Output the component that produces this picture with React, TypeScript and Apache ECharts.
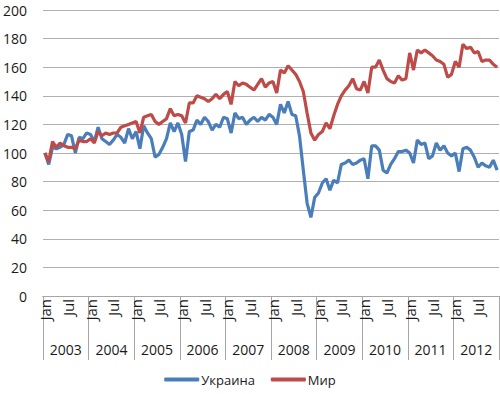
import React, { useEffect, useRef } from "react";
import * as echarts from "echarts";

const years = ["2003", "2004", "2005", "2006", "2007", "2008", "2009", "2010", "2011", "2012"];
const monthNames = ["Jan", "Feb", "Mar", "Apr", "May", "Jun", "Jul", "Aug", "Sep", "Oct", "Nov", "Dec"];
const shownMonths = ["Jan", "Jul"];
const yTicks = { min: 0, max: 200, step: 20 };

const ukraine = [
  100, 92, 104, 103, 104, 106, 113, 112, 100, 111, 110, 114,
  113, 108, 118, 110, 108, 106, 109, 113, 111, 107, 117, 110,
  115, 103, 119, 114, 110, 97, 99, 104, 110, 121, 115, 121,
  113, 94, 115, 116, 123, 120, 125, 122, 116, 120, 118, 125,
  124, 114, 128, 124, 125, 120, 123, 125, 122, 125, 123, 127,
  125, 120, 134, 128, 136, 127, 126, 112, 88, 65, 55, 69,
  72, 79, 82, 74, 81, 79, 92, 93, 95, 92, 93, 95,
  96, 82, 105, 105, 102, 88, 86, 92, 96, 101, 101, 102,
  100, 93, 109, 106, 107, 96, 98, 107, 102, 105, 100, 98,
  100, 87, 103, 104, 102, 97, 90, 93, 91, 90, 95, 88,
];

const world = [
  100, 94, 108, 104, 107, 105, 104, 104, 103, 109, 108, 108,
  110, 107, 115, 112, 114, 113, 114, 114, 118, 119, 120, 121,
  122, 114, 125, 126, 127, 122, 120, 122, 124, 131, 126, 127,
  126, 121, 135, 135, 140, 139, 138, 136, 138, 141, 138, 141,
  143, 134, 150, 147, 149, 148, 146, 144, 148, 152, 146, 149,
  150, 142, 158, 156, 161, 158, 155, 150, 143, 128, 114, 109,
  113, 115, 121, 117, 126, 134, 140, 144, 147, 152, 145, 144,
  150, 142, 160, 160, 165, 158, 152, 150, 149, 154, 151, 152,
  170, 158, 172, 170, 172, 170, 168, 165, 164, 162, 153, 155,
  164, 160, 176, 173, 174, 170, 171, 164, 165, 165, 162, 160,
];

const seriesNames = ["Украина", "Мир"];

const categories: string[] = [];
years.forEach((y) => monthNames.forEach((m) => categories.push(m + " " + y)));

export default function App() {
  const ref = useRef<HTMLDivElement>(null);
  useEffect(() => {
    if (!ref.current) return;
    const chart = echarts.init(ref.current, null, { renderer: "svg" });
    const font = "'Open Sans', 'Liberation Sans', sans-serif";
    chart.setOption({
      animation: false,
      textStyle: { fontFamily: font },
      grid: { left: 43, right: 1, top: 10, bottom: 98 },
      legend: {
        bottom: 3,
        left: "center",
        itemWidth: 35,
        itemHeight: 4,
        itemGap: 16,
        icon: "roundRect",
        textStyle: { fontSize: 13, color: "#1a1a1a", fontFamily: font, padding: [0, 0, 0, -3] },
        data: seriesNames,
      },
      xAxis: [
        {
          type: "category",
          data: categories,
          boundaryGap: true,
          axisLine: { show: true, lineStyle: { color: "#a6a6a6" } },
          axisTick: { show: false },
          axisLabel: {
            rotate: 90,
            margin: 3,
            fontSize: 15,
            color: "#1a1a1a",
            fontFamily: font,
            interval: (idx: number) => shownMonths.includes(monthNames[idx % 12]),
            formatter: (v: string) => v.split(" ")[0],
          },
        },
        {
          type: "category",
          data: years,
          position: "bottom",
          boundaryGap: true,
          axisLine: { show: true, lineStyle: { color: "#a6a6a6" } },
          axisTick: { show: true, length: 64, interval: 0, lineStyle: { color: "#a6a6a6" } },
          axisLabel: { margin: 46, fontSize: 14, color: "#1a1a1a", fontFamily: font, interval: 0 },
          splitLine: { show: false },
        },
      ],
      yAxis: {
        type: "value",
        min: yTicks.min,
        max: yTicks.max,
        interval: yTicks.step,
        axisLine: { show: false },
        axisTick: { show: false },
        axisLabel: { margin: 16, fontSize: 14, color: "#1a1a1a", fontFamily: font },
        splitLine: { lineStyle: { color: "#b0b0b0", width: 1 } },
      },
      series: [
        {
          name: seriesNames[0],
          type: "line",
          data: ukraine,
          xAxisIndex: 0,
          symbol: "none",
          lineStyle: { color: "#4a7ebb", width: 3.2 },
          itemStyle: { color: "#4a7ebb" },
        },
        {
          name: seriesNames[1],
          type: "line",
          data: world,
          xAxisIndex: 0,
          symbol: "none",
          lineStyle: { color: "#be4b48", width: 3.2 },
          itemStyle: { color: "#be4b48" },
        },
      ],
    });
    return () => chart.dispose();
  }, []);
  return <div ref={ref} style={{ width: 500, height: 394, position: "absolute", left: 0, top: 0 }} />;
}
